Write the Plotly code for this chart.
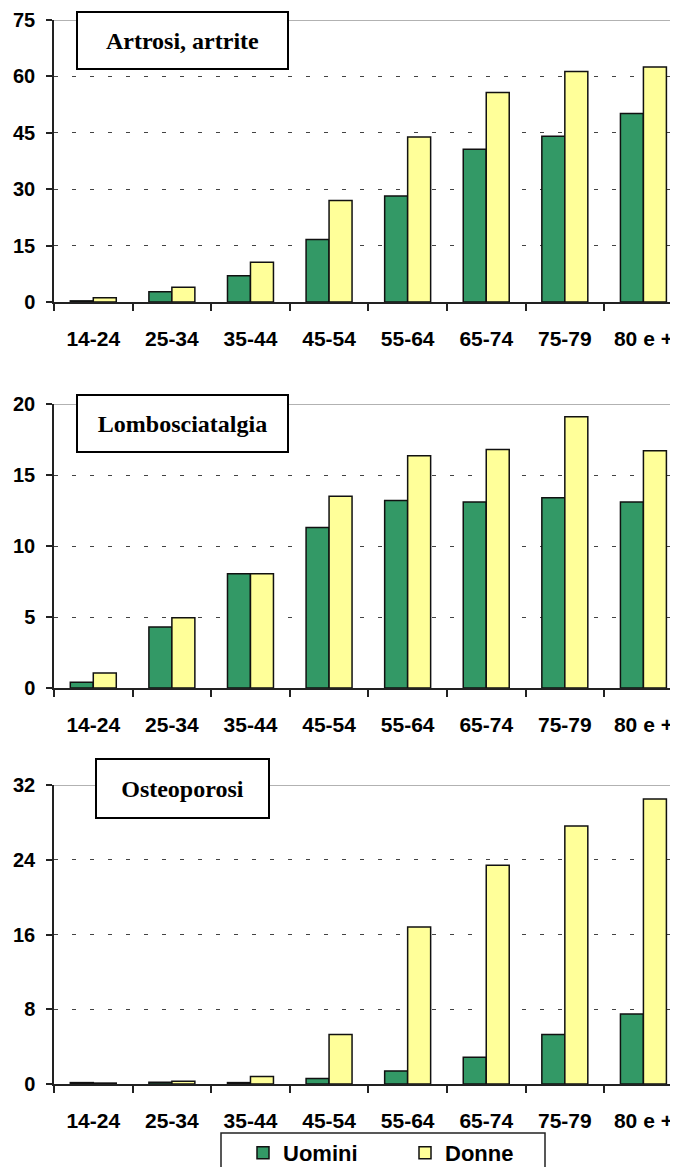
import plotly.graph_objects as go

categories = ["14-24", "25-34", "35-44", "45-54", "55-64", "65-74", "75-79", "80 e +"]
series_names = ["Uomini", "Donne"]

artrosi_uomini = [0.3, 2.7, 7.0, 16.6, 28.2, 40.6, 44.1, 50.1]
artrosi_donne = [1.1, 3.9, 10.6, 27.0, 43.9, 55.7, 61.3, 62.5]

lombo_uomini = [0.4, 4.3, 8.05, 11.3, 13.2, 13.1, 13.4, 13.1]
lombo_donne = [1.05, 4.95, 8.05, 13.5, 16.35, 16.8, 19.1, 16.7]

osteo_uomini = [0.15, 0.2, 0.15, 0.6, 1.4, 2.85, 5.3, 7.5]
osteo_donne = [0.1, 0.3, 0.8, 5.3, 16.8, 23.4, 27.6, 30.5]

panel_titles = ["Artrosi, artrite", "Lombosciatalgia", "Osteoporosi"]
y_max = [75, 20, 32]
y_step = [15, 5, 8]

# page body has an 8px margin: work in screen pixels and convert
OFF = 8
W, H = 678 - OFF, 1167 - OFF
ML = 54 - OFF
PW = W - ML

GREEN = "#339966"
YELLOW = "#FFFF99"

panels = [
    (artrosi_uomini, artrosi_donne),
    (lombo_uomini, lombo_donne),
    (osteo_uomini, osteo_donne),
]
# screen pixel positions (top, bottom) of each plot area
px_top_bottom = [(20, 302), (404, 688), (785, 1084)]
# title box screen pixel rects (x0, x1, y0, y1)
title_boxes = [(77, 288, 12, 69), (77, 288, 395, 452), (96, 269, 759, 818)]


def yp(py):
    return 1 - (py - OFF) / H


def xp(px):
    return (px - OFF - ML) / PW


fig = go.Figure()
for i, (u, d) in enumerate(panels):
    n = "" if i == 0 else str(i + 1)
    for name, vals, col in [(series_names[0], u, GREEN), (series_names[1], d, YELLOW)]:
        fig.add_trace(go.Bar(
            x=categories, y=vals, name=name,
            xaxis="x" + n, yaxis="y" + n,
            marker=dict(color=col, line=dict(color="#111111", width=1.5)),
            showlegend=(i == 0),
            legendgroup=name,
        ))

tick_font = dict(family="Liberation Sans, Arial", size=20, color="black", weight="bold")
xtick_font = dict(family="Liberation Sans, Arial", size=21, color="black", weight="bold")

layout = dict(
    width=W, height=H,
    margin=dict(l=ML, r=0, t=0, b=0, autoexpand=False),
    plot_bgcolor="white", paper_bgcolor="white",
    barmode="group", bargap=0.415, bargroupgap=0,
    showlegend=True,
    legend=dict(
        orientation="h",
        x=xp(243), y=yp(1132), xanchor="left", yanchor="top",
        borderwidth=0,
        font=dict(family="Liberation Sans, Arial", size=22, color="black", weight="bold"),
        entrywidth=117, entrywidthmode="pixels",
        bgcolor="rgba(0,0,0,0)",
    ),
)

shapes = []
annotations = []
for i in range(3):
    n = "" if i == 0 else str(i + 1)
    top, bot = px_top_bottom[i]
    layout["xaxis" + n] = dict(
        domain=[0, 1], anchor="y" + n,
        type="category", range=[-0.5, 7.44],
        showline=True, linecolor="#222222", linewidth=1.5,
        ticks="outside", tickson="boundaries", ticklen=7, tickwidth=1.5, tickcolor="#222222",
        tickfont=xtick_font, ticklabelstandoff=17,
        showgrid=False,
    )
    layout["yaxis" + n] = dict(
        domain=[yp(bot), yp(top)], anchor="x" + n,
        range=[0, y_max[i]], dtick=y_step[i], tick0=0,
        showline=True, linecolor="#222222", linewidth=1.5,
        ticks="outside", ticklen=6, tickwidth=1.5, tickcolor="#222222",
        tickfont=tick_font, ticklabelstandoff=7,
        showgrid=True, gridcolor="#444444", gridwidth=1, griddash="4px,14px",
        zeroline=False,
    )
    shapes.append(dict(
        type="line", xref="x" + n + " domain", yref="y" + n,
        x0=0, x1=1, y0=y_max[i], y1=y_max[i],
        line=dict(color="#999999", width=1.5), layer="below",
    ))
    bx0, bx1, by0, by1 = title_boxes[i]
    annotations.append(dict(
        xref="paper", yref="paper",
        x=xp((bx0 + bx1) / 2), y=yp((by0 + by1) / 2),
        xanchor="center", yanchor="middle",
        text=panel_titles[i], showarrow=False,
        width=bx1 - bx0 - 4, height=by1 - by0 - 4,
        bgcolor="white", bordercolor="black", borderwidth=2,
        font=dict(family="Liberation Serif, Times New Roman", size=24, color="black", weight="bold"),
    ))

# legend frame
shapes.append(dict(
    type="rect", xref="paper", yref="paper",
    x0=xp(221), x1=xp(545), y0=yp(1133), y1=yp(1185),
    line=dict(color="#222222", width=1.5), fillcolor="rgba(0,0,0,0)", layer="above",
))

layout["shapes"] = shapes
layout["annotations"] = annotations
fig.update_layout(**layout)
fig.write_html("out.html")
